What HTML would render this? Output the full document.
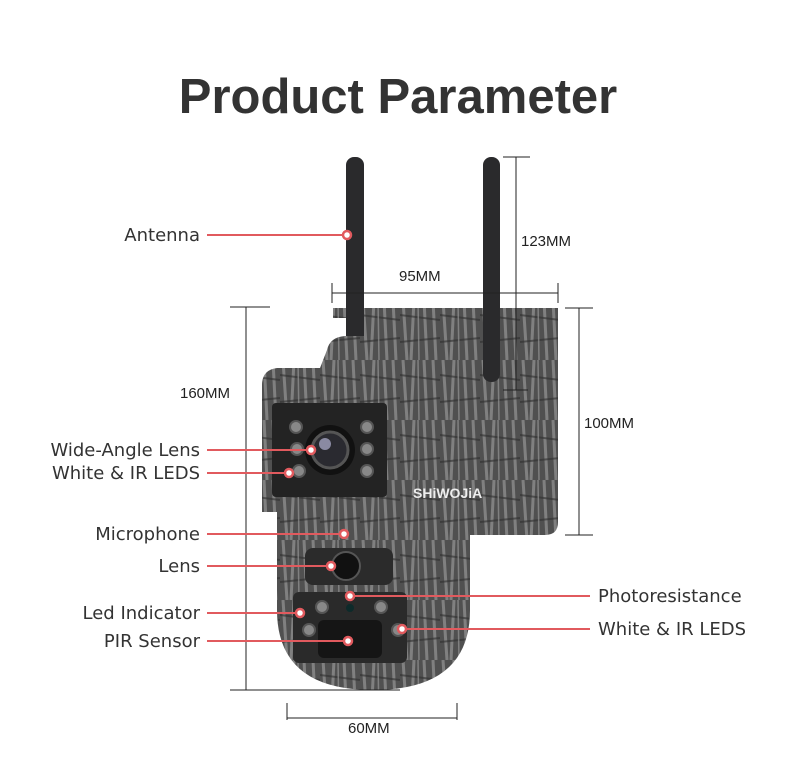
<!DOCTYPE html>
<html><head><meta charset="utf-8"><style>
html,body{margin:0;padding:0;background:#fff;}
svg{display:block;}
text{font-family:"DejaVu Sans","Liberation Sans",sans-serif;fill:#333;}
</style></head><body>
<svg width="800" height="757" viewBox="0 0 800 757" xmlns="http://www.w3.org/2000/svg">
<defs>
<pattern id="camo" width="40" height="60" patternUnits="userSpaceOnUse">
<rect width="40" height="60" fill="#505050"/>
<path d="M3 0 L7 60 M14 0 L11 60 M24 0 L27 60 M33 0 L36 60" stroke="#949494" stroke-width="3" opacity="0.7"/>
<path d="M0 15 L40 20 M0 42 L40 38" stroke="#2e2e2e" stroke-width="2" opacity="0.6"/>
<path d="M18 0 L19 60" stroke="#a0a0a0" stroke-width="1.5" opacity="0.6"/>
</pattern>
</defs>
<text x="398" y="113" text-anchor="middle" style="font-family:'Liberation Sans',sans-serif;font-weight:bold;font-size:49px;fill:#333">Product Parameter</text>

<!-- back panel -->
<path d="M333 308 H558 V522 Q558 535 545 535 H360 V318 H333 Z" fill="url(#camo)"/>
<!-- antennas -->
<rect x="346" y="157" width="18" height="200" rx="8" fill="#2a2a2c"/>
<rect x="483" y="157" width="17" height="225" rx="8" fill="#2a2a2c"/>
<!-- upper head -->
<path d="M327 350 Q330 337 345 336 H450 Q463 338 465 350 L477 368 V512 H262 V385 Q262 370 277 368 H320 Z" fill="url(#camo)"/>
<rect x="272" y="403" width="115" height="94" rx="4" fill="#232323"/>
<circle cx="330" cy="450" r="25" fill="#111"/>
<circle cx="330" cy="450" r="18" fill="#2a2a30" stroke="#555" stroke-width="3"/>
<circle cx="325" cy="444" r="6" fill="#cce" opacity="0.6"/>
<g fill="#888" stroke="#555" stroke-width="2">
<circle cx="296" cy="427" r="6"/><circle cx="367" cy="427" r="6"/>
<circle cx="297" cy="449" r="6"/><circle cx="367" cy="449" r="6"/>
<circle cx="299" cy="471" r="6"/><circle cx="367" cy="471" r="6"/>
</g>
<text x="413" y="498" style="font-family:'Liberation Sans',sans-serif;font-weight:bold;font-size:14px;fill:#eee">SHiWOJiA</text>
<!-- lower dome -->
<path d="M277 512 H470 V610 Q470 690 373 690 Q277 690 277 610 Z" fill="url(#camo)"/>
<rect x="305" y="548" width="88" height="37" rx="8" fill="#2b2b2b"/>
<circle cx="346" cy="566" r="14" fill="#111" stroke="#555" stroke-width="2"/>
<rect x="293" y="592" width="114" height="71" rx="6" fill="#2a2a2a"/>
<rect x="318" y="620" width="64" height="38" rx="6" fill="#151515"/>
<g fill="#888" stroke="#555" stroke-width="2">
<circle cx="322" cy="607" r="6"/><circle cx="381" cy="607" r="6"/>
<circle cx="309" cy="630" r="6"/><circle cx="398" cy="630" r="6"/>
</g>
<circle cx="350" cy="608" r="4" fill="#0d2a2a"/>

<!-- dimension lines -->
<g stroke="#222" stroke-width="1" fill="none">
<path d="M246 307 V690 M230 307 H270 M230 690 H400"/>
<path d="M332 293 H558 M332 283 V303 M558 283 V303"/>
<path d="M516 157 V390 M503 157 H530 M503 390 H528"/>
<path d="M579 308 V535 M565 308 H593 M565 535 H593"/>
<path d="M287 718 H457 M287 703 V720 M457 703 V720"/>
</g>
<text x="180" y="398" style="font-family:'Liberation Sans',sans-serif;font-size:15px;fill:#222">160MM</text>
<text x="399" y="281" style="font-family:'Liberation Sans',sans-serif;font-size:15px;fill:#222">95MM</text>
<text x="521" y="246" style="font-family:'Liberation Sans',sans-serif;font-size:15px;fill:#222">123MM</text>
<text x="584" y="428" style="font-family:'Liberation Sans',sans-serif;font-size:15px;fill:#222">100MM</text>
<text x="348" y="733" style="font-family:'Liberation Sans',sans-serif;font-size:15px;fill:#222">60MM</text>

<!-- callouts -->
<g stroke="#e15a5e" stroke-width="2">
<line x1="207" y1="235" x2="347" y2="235"/>
<line x1="207" y1="450" x2="311" y2="450"/>
<line x1="207" y1="473" x2="289" y2="473"/>
<line x1="207" y1="534" x2="344" y2="534"/>
<line x1="207" y1="566" x2="331" y2="566"/>
<line x1="207" y1="613" x2="300" y2="613"/>
<line x1="207" y1="641" x2="348" y2="641"/>
<line x1="350" y1="596" x2="590" y2="596"/>
<line x1="402" y1="629" x2="590" y2="629"/>
</g>
<g fill="#fff" stroke="#e15a5e" stroke-width="2.5">
<circle cx="347" cy="235" r="4"/><circle cx="311" cy="450" r="4"/><circle cx="289" cy="473" r="4"/>
<circle cx="344" cy="534" r="4"/><circle cx="331" cy="566" r="4"/><circle cx="300" cy="613" r="4"/>
<circle cx="348" cy="641" r="4"/><circle cx="350" cy="596" r="4"/><circle cx="402" cy="629" r="4"/>
</g>
<g font-size="18" text-anchor="end">
<text x="200" y="241">Antenna</text>
<text x="200" y="456">Wide-Angle Lens</text>
<text x="200" y="479">White &amp; IR LEDS</text>
<text x="200" y="540">Microphone</text>
<text x="200" y="572">Lens</text>
<text x="200" y="619">Led Indicator</text>
<text x="200" y="647">PIR Sensor</text>
</g>
<g font-size="18">
<text x="598" y="602">Photoresistance</text>
<text x="598" y="635">White &amp; IR LEDS</text>
</g>
</svg>
</body></html>
